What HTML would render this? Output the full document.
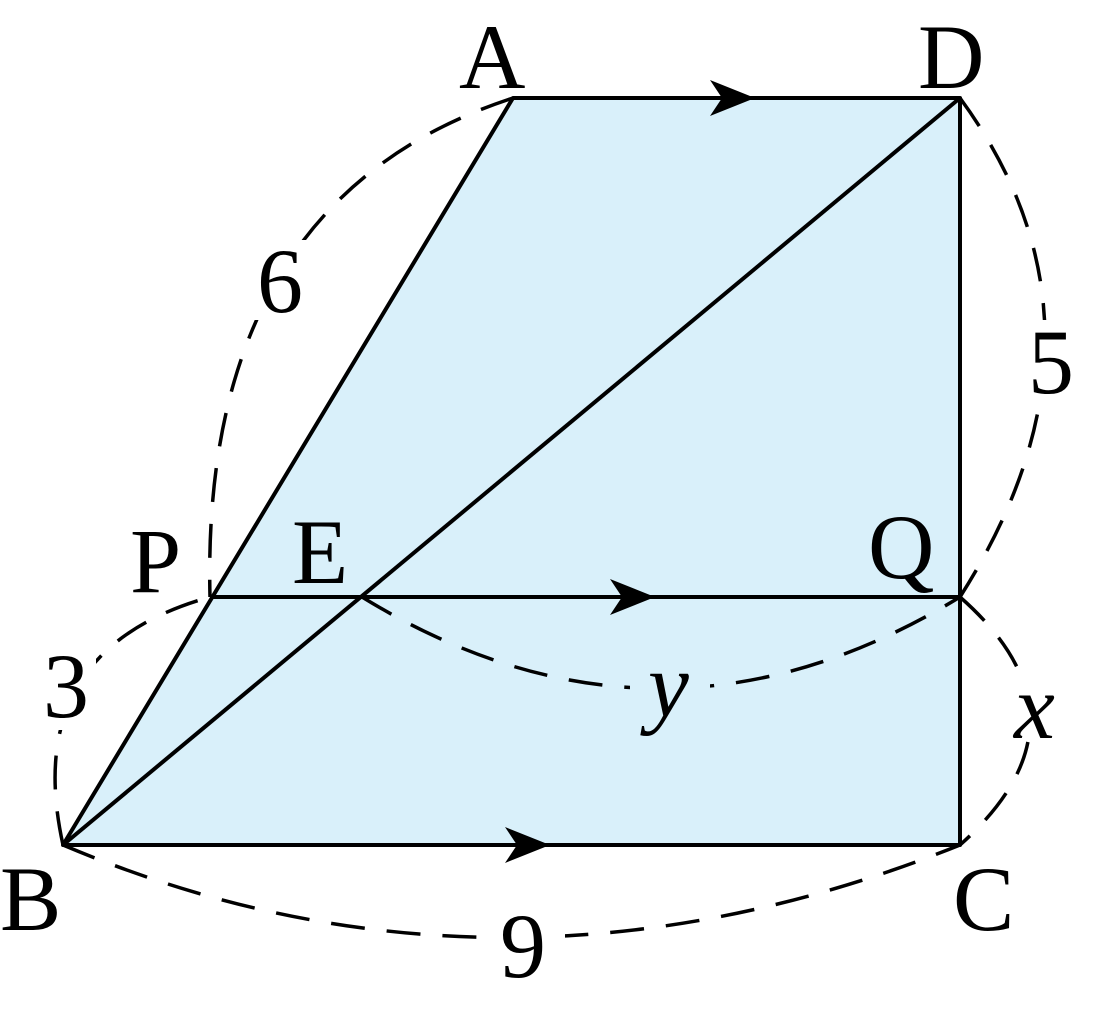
<!DOCTYPE html>
<html><head><meta charset="utf-8"><style>
html,body{margin:0;padding:0;background:#fff;width:1110px;height:1009px;overflow:hidden}
text{font-family:"Liberation Serif",serif;font-size:92px;fill:#000}
</style></head><body>
<svg width="1110" height="1009" viewBox="0 0 1110 1009" xmlns="http://www.w3.org/2000/svg">
<polygon points="513,98 960,98 960,845 63,845" fill="#d9f0fa"/>
<g fill="none" stroke="#000" stroke-width="4" stroke-linejoin="round">
<path d="M513,98 L960,98 L960,845 L63,845 Z"/>
<path d="M63,845 L960,98"/>
<path d="M210,597 L960,597"/>
</g>
<g fill="none" stroke="#000" stroke-width="3.5" stroke-dasharray="34,22">
<path d="M513,98 Q200,200 210,597"/>
<path d="M960,98 Q1130,330 960,597"/>
<path d="M63,845 Q20,650 210,597"/>
<path d="M63,845 Q500,1030 960,845"/>
<path d="M362,597 Q660,780 960,597"/>
<path d="M960,597 Q1100,720 960,845"/>
</g>
<g fill="#000">
<path d="M755,98 L710,80 L722,98 L710,116 Z"/>
<path d="M655,597 L610,579 L622,597 L610,615 Z"/>
<path d="M550,845 L505,827 L517,845 L505,863 Z"/>
</g>
<text x="459" y="88">A</text>
<text x="918" y="88">D</text>
<text x="130" y="592">P</text>
<text x="292" y="583">E</text>
<text x="868" y="578">Q</text>
<text x="0" y="930">B</text>
<text x="953" y="930">C</text>
<rect x="252" y="240" width="60" height="80" fill="#fff"/>
<text x="257" y="312">6</text>
<rect x="1025" y="320" width="55" height="80" fill="#fff"/>
<text x="1028" y="393">5</text>
<rect x="38" y="650" width="58" height="80" fill="#fff"/>
<text x="43" y="717">3</text>
<rect x="495" y="900" width="70" height="80" fill="#fff"/>
<text x="500" y="977">9</text>
<rect x="630" y="660" width="80" height="60" fill="#d9f0fa"/>
<text x="648" y="716" font-style="italic">y</text>
<rect x="1005" y="680" width="60" height="60" fill="#fff"/>
<text x="1014" y="738" font-style="italic">x</text>
</svg>
</body></html>
